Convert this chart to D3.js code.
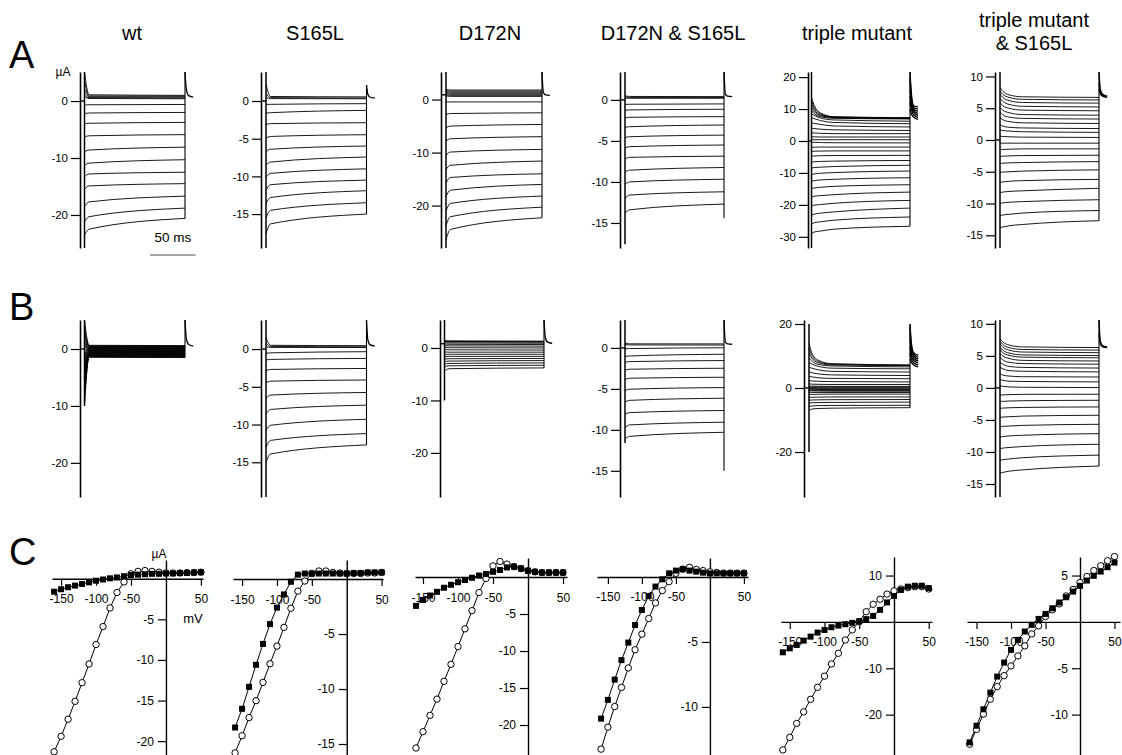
<!DOCTYPE html>
<html><head><meta charset="utf-8">
<script src="https://cdn.jsdelivr.net/npm/d3@7"></script>
<style>
html,body{margin:0;padding:0;background:#fff;}
svg{display:block;}
</style></head><body>
<svg id="chart" width="1122" height="755"></svg>
<script>
// ---------------- DATA ----------------
const titleLines = [["wt"],["S165L"],["D172N"],["D172N & S165L"],["triple mutant"],["triple mutant","& S165L"]];
const rowLetters = ["A","B","C"];
const PULSE_MS = 110;
const stepTimes = [0, 5, 110];
const slowTimes = [0, 3, 10, 25, 110];
const tailTimes = [0, 1.5, 4, 9];
const scaleBarMs = 50;

// Row A
const wtA_ticks = [0,-10,-20];
const wtA_extent = [-25.8, 5.1];
const wtA_traces = [[5.1,1.1,1.0],[3.5,0.9,0.85],[2.0,0.75,0.7],[1.2,0.6,0.55],[0.8,0.45,0.4],
  [-0.7,-0.65,-0.6],[-2.2,-2.1,-2.0],[-4.0,-3.9,-3.75],[-6.3,-6.1,-5.9],[-8.9,-8.6,-8.1],[-11.3,-10.9,-10.3],
  [-13.3,-12.8,-12.5],[-15.5,-14.9,-14.5],[-18.5,-17.7,-16.7],[-21.2,-20.3,-18.8],[-23.5,-22.5,-20.6]];
const wtA_tails = [[5.1,2.0,0.95,0.7]];

const s165A_ticks = [0,-5,-10,-15];
const s165A_extent = [-19.5, 3.85];
const s165A_traces = [[2.2,0.6,0.55],[1.0,0.45,0.4],[0.5,0.32,0.3],
  [-0.45,-0.44,-0.35],[-1.6,-1.55,-1.24],[-3.1,-3.0,-2.88],[-4.9,-4.7,-4.47],[-6.7,-6.4,-5.97],[-8.5,-8.1,-7.43],
  [-10.1,-9.6,-9.0],[-11.8,-11.1,-10.5],[-13.6,-12.8,-11.9],[-15.5,-14.5,-13.5],[-17.6,-16.3,-15.0]];
const s165A_tails = [[2.1,0.9,0.5,0.4]];

const d172A_ticks = [0,-10,-20];
const d172A_extent = [-28, 5.2];
const d172A_traces = [[1.9,1.8,1.8],[1.7,1.6,1.6],[1.5,1.4,1.4],[1.3,1.2,1.2],[1.1,1.0,1.0],[0.9,0.8,0.8],[0.7,0.6,0.6],
  [-0.45,-0.45,-0.44],[-2.8,-2.64,-2.5],[-5.3,-5.0,-4.7],[-7.8,-7.4,-7.0],[-10.5,-9.9,-9.4],[-13.2,-12.4,-11.6],
  [-15.7,-14.7,-14.0],[-18.3,-17.1,-16.0],[-21.0,-19.6,-18.2],[-23.8,-22.1,-20.3],[-26.5,-24.5,-22.3]];
const d172A_tails = [[5.2,1.4,0.9,0.8]];

const dsA_ticks = [0,-5,-10,-15];
const dsA_extent = [-18.05, 3.4];
const dsA_traces = [[0.5,0.42,0.4],[0.35,0.3,0.3],[0.22,0.2,0.2],
  [-0.55,-0.53,-0.49],[-1.25,-1.22,-1.14],[-2.2,-2.12,-2.04],[-3.35,-3.27,-3.06],[-4.6,-4.49,-4.29],[-5.85,-5.7,-5.5],
  [-7.2,-7.0,-6.86],[-8.8,-8.57,-8.24],[-10.3,-10.0,-9.67],[-12.0,-11.6,-11.2],[-13.8,-13.4,-12.7]];
const dsA_tails = [[3.4,0.7,0.45,0.4]];

const triA_ticks = [20,10,0,-10,-20,-30];
const triA_extent = [-33.5, 21.6];
const triA_traces = [[13.5,11.2,8.8,7.6,7.3],[12.5,10.5,8.5,7.5,7.2],[11.5,9.8,8.2,7.4,7.1],[10.5,9.2,7.9,7.3,7.0],
  [9.5,8.6,7.6,7.1,6.9],[8.5,8.0,7.2,6.6,6.2],[7.3,7.0,6.4,5.8,5.4],[5.6,5.5,5.2,4.7,4.4],[4.0,3.9,3.7,3.5,3.3],
  [2.6,2.5,2.4,2.3,2.3],[1.3,1.3,1.25,1.25,1.25],[0.4,0.4,0.4,0.4,0.4],[-0.4,-0.4,-0.5,-0.55,-0.6],
  [-2.0,-1.95,-1.9,-1.9,-1.9],[-3.3,-3.2,-3.15,-3.1,-3.1],[-4.8,-4.7,-4.6,-4.55,-4.5],[-6.6,-6.5,-6.4,-6.3,-6.1],
  [-8.5,-8.3,-8.2,-8.0,-7.6],[-10.5,-10.3,-10.1,-9.9,-9.4],[-12.6,-12.4,-12.2,-12.0,-11.5],[-15.0,-14.7,-14.5,-14.2,-13.7],
  [-17.6,-17.3,-17.1,-16.8,-16.0],[-20.4,-20.1,-19.9,-19.5,-18.6],[-23.2,-22.9,-22.6,-22.2,-21.0],
  [-26.0,-25.6,-25.3,-24.8,-23.8],[-29.0,-28.5,-28.2,-27.6,-26.7]];
const triA_tails = [[21.6,15,11,10.7],[20,14,10.5,10],[18,13,10,9.3],[16,12,9.5,8.6],[14,11,9,8],[12,10,8.2,7.4],[10,8.5,7.5,6.8]];

const tsA_ticks = [10,5,0,-5,-10,-15];
const tsA_extent = [-17, 10.7];
const tsA_traces = [[8.3,7.7,7.1,6.8,6.7],[7.7,7.2,6.7,6.4,6.3],[7.2,6.7,6.2,5.9,5.8],[6.6,6.1,5.6,5.3,5.2],
  [5.9,5.4,5.0,4.7,4.6],[5.1,4.7,4.3,4.0,3.9],[4.4,4.0,3.6,3.4,3.3],[3.5,3.2,2.9,2.7,2.6],[2.4,2.2,2.0,1.9,1.8],
  [1.6,1.5,1.4,1.3,1.2],[0.6,0.55,0.5,0.45,0.4],[-0.5,-0.5,-0.5,-0.5,-0.5],[-1.5,-1.5,-1.45,-1.4,-1.4],
  [-2.6,-2.55,-2.5,-2.45,-2.4],[-3.7,-3.65,-3.6,-3.55,-3.4],[-5.1,-5.05,-5.0,-4.9,-4.7],[-6.7,-6.6,-6.5,-6.4,-6.2],
  [-8.3,-8.2,-8.1,-8.0,-7.6],[-10.0,-9.9,-9.8,-9.7,-9.4],[-11.9,-11.8,-11.7,-11.5,-11.1],[-13.8,-13.7,-13.5,-13.3,-12.7]];
const tsA_tails = [[10.7,8.0,7.2,6.9],[9.0,7.5,7.0,6.8],[8.0,7.2,6.9,6.7]];

// Row B
const wtB_ticks = [0,-10,-20];
const wtB_extent = [-26, 5.1];
const wtB_traces = [[5.1,0.65,0.6],[4.0,0.57,0.52],[3.0,0.5,0.45],[2.2,0.42,0.38],[1.5,0.35,0.3],[1.1,0.27,0.22],
  [0.8,0.2,0.15],[0.5,0.12,0.08],[0.3,0.05,0],[-0.1,-0.02,-0.07],[-0.5,-0.1,-0.15],[-0.75,-0.17,-0.22],
  [-1.0,-0.25,-0.3],[-1.25,-0.32,-0.37],[-1.5,-0.4,-0.45],[-2.0,-0.47,-0.52],[-2.5,-0.55,-0.6],[-3.0,-0.62,-0.67],
  [-3.5,-0.7,-0.75],[-4.0,-0.77,-0.82],[-4.5,-0.85,-0.9],[-5.0,-0.92,-0.97],[-5.5,-1.0,-1.05],[-6.0,-1.07,-1.12],
  [-6.5,-1.15,-1.2],[-7.2,-1.22,-1.27],[-8.0,-1.3,-1.35],[-9.0,-1.37,-1.42],[-10.0,-1.45,-1.5]];
const wtB_tails = [[5.1,1.8,0.8,0.5]];

const s165B_ticks = [0,-5,-10,-15];
const s165B_extent = [-19.6, 3.85];
const s165B_traces = [[1.5,0.5,0.45],[0.8,0.35,0.3],[0.3,0.22,0.2],
  [-0.55,-0.5,-0.35],[-1.45,-1.37,-1.24],[-2.85,-2.7,-2.57],[-4.45,-4.25,-4.1],[-6.5,-6.1,-5.75],[-8.6,-8.0,-7.43],
  [-10.8,-10.1,-9.3],[-13.0,-12.1,-11.2],[-15.0,-13.9,-12.7]];
const s165B_tails = [[3.85,1.2,0.55,0.4]];

const d172B_ticks = [0,-10,-20];
const d172B_extent = [-28.4, 5.33];
const d172B_traces = [[1.4,1.35,1.3],[1.3,1.25,1.2],[1.2,1.15,1.1],[1.0,0.95,0.9],[0.75,0.7,0.65],[0.45,0.4,0.35],[0.1,0.05,0],
  [-0.3,-0.35,-0.4],[-0.75,-0.8,-0.8],[-1.2,-1.2,-1.2],[-1.65,-1.6,-1.6],[-2.1,-2.05,-2.0],[-2.6,-2.5,-2.4],
  [-3.1,-2.95,-2.85],[-3.6,-3.4,-3.3],[-4.4,-3.95,-3.8]];
const d172B_tails = [[5.33,2.0,1.1,0.9]];

const dsB_ticks = [0,-5,-10,-15];
const dsB_extent = [-18.2, 3.41];
const dsB_traces = [[0.6,0.5,0.49],[0.42,0.37,0.35],[-0.1,-0.08,0.02],[-1.05,-0.98,-0.77],[-1.75,-1.67,-1.54],
  [-2.7,-2.6,-2.48],[-3.85,-3.7,-3.58],[-5.2,-5.04,-4.84],[-6.6,-6.4,-6.14],[-8.1,-7.9,-7.64],[-9.7,-9.4,-9.07],
  [-11.1,-10.8,-10.3]];
const dsB_tails = [[3.41,0.7,0.5,0.45]];

const triB_ticks = [20,0,-20];
const triB_extent = [-34.06, 21.25];
const triB_traces = [[14,11,8.7,7.6,7.2],[12.5,10.2,8.3,7.4,7.1],[11,9.4,7.9,7.2,7.0],[9.5,8.5,7.4,6.9,6.6],
  [8,7.5,6.8,6.2,6.0],[6.5,6.2,5.7,5.2,5.0],[5.0,4.8,4.4,4.1,3.9],[3.6,3.5,3.2,3.0,2.9],[2.3,2.2,2.1,2.0,1.9],
  [1.3,1.2,1.15,1.1,1.1],[0.6,0.6,0.55,0.5,0.5],[0.3,0.3,0.28,0.25,0.25],[0.1,0.1,0.05,0,0],[-0.2,-0.2,-0.22,-0.25,-0.25],
  [-0.4,-0.4,-0.45,-0.5,-0.5],[-0.7,-0.7,-0.72,-0.75,-0.75],[-0.9,-0.9,-0.95,-1.0,-1.0],[-1.4,-1.4,-1.4,-1.4,-1.4],
  [-2.0,-2.0,-1.95,-1.9,-1.9],[-2.9,-2.9,-2.85,-2.8,-2.8],[-3.8,-3.75,-3.7,-3.65,-3.6],[-4.7,-4.6,-4.55,-4.5,-4.4],
  [-5.8,-5.6,-5.5,-5.45,-5.4],[-7.0,-6.6,-6.4,-6.3,-6.15]];
const triB_tails = [[20,14,11,10.2],[19,13,10.5,9.6],[17,12,10,9],[15,11,9.3,8.4],[13,10,8.6,7.8],[11,9,7.9,7.2],[9,8,7.2,6.6]];

const tsB_ticks = [10,5,0,-5,-10,-15];
const tsB_extent = [-17.03, 10.6];
const tsB_traces = [[7.7,7.2,6.7,6.4,6.3],[7.3,6.8,6.3,6.0,5.9],[6.9,6.4,5.9,5.6,5.5],[6.4,5.9,5.45,5.15,5.05],
  [6.0,5.5,5.1,4.8,4.7],[5.4,5.0,4.6,4.3,4.2],[4.8,4.4,4.0,3.8,3.7],[4.0,3.7,3.35,3.2,3.1],[3.2,3.0,2.7,2.6,2.5],
  [2.2,2.0,1.85,1.75,1.7],[1.3,1.2,1.05,1.0,0.94],[0.3,0.25,0.15,0.1,0.05],[-1.1,-1.1,-1.05,-1.0,-0.99],
  [-2.1,-2.1,-2.05,-2.0,-1.93],[-3.2,-3.15,-3.1,-3.05,-2.97],[-4.6,-4.55,-4.5,-4.4,-4.27],[-6.1,-6.0,-5.95,-5.85,-5.68],
  [-7.7,-7.6,-7.5,-7.4,-7.14],[-9.5,-9.4,-9.3,-9.15,-8.8],[-11.3,-11.2,-11.1,-10.9,-10.5],[-13.3,-13.2,-13.0,-12.8,-12.2]];
const tsB_tails = [[10.6,7.3,6.6,6.4],[8.5,6.9,6.4,6.3]];

// Row C: current-voltage relations
const voltages = [-160,-150,-140,-130,-120,-110,-100,-90,-80,-70,-60,-50,-40,-30,-20,-10,0,10,20,30,40,50];
const ivXTicks = [-150,-100,-50,50];

const wtC_sq = [-1.6,-1.3,-1.05,-0.85,-0.65,-0.45,-0.25,-0.1,0.05,0.15,0.3,0.45,0.5,0.55,0.6,0.6,0.65,0.65,0.7,0.7,0.75,0.8];
const wtC_ci = [-21.3,-19.4,-17.3,-15.1,-12.8,-10.5,-8.1,-5.9,-3.6,-1.7,-0.4,0.6,0.9,1.0,0.9,0.8,0.7,0.7,0.7,0.75,0.75,0.8];
const wtC_yTicks = [-5,-10,-15,-20];

const s165C_sq = [-13.5,-11.8,-9.8,-7.8,-5.9,-4.1,-2.6,-1.4,-0.25,0.4,0.5,0.5,0.5,0.5,0.5,0.5,0.5,0.55,0.55,0.6,0.6,0.6];
const s165C_ci = [-15.8,-14.25,-12.6,-11.06,-9.4,-7.7,-6.1,-4.4,-2.66,-1.1,-0.18,0.5,0.73,0.73,0.6,0.55,0.5,0.5,0.5,0.55,0.55,0.6];
const s165C_yTicks = [-5,-10,-15];

const d172C_sq = [-3.9,-3.1,-2.5,-2.0,-1.45,-1.05,-0.7,-0.4,-0.1,0.2,0.4,0.7,0.95,1.3,1.4,1.15,0.85,0.7,0.6,0.6,0.6,0.6];
const d172C_ci = [-23.1,-20.9,-18.7,-16.5,-14.1,-11.8,-9.4,-7.0,-4.55,-2.1,-0.2,1.5,2.1,1.75,1.4,1.15,0.85,0.7,0.6,0.6,0.6,0.6];
const d172C_yTicks = [-5,-10,-15,-20];

const dsC_sq = [-10.9,-9.46,-7.9,-6.4,-5.05,-3.7,-2.54,-1.46,-0.74,-0.18,0.28,0.49,0.6,0.49,0.41,0.33,0.28,0.28,0.28,0.28,0.28,0.28];
const dsC_ci = [-13.25,-11.56,-9.97,-8.5,-7.0,-5.6,-4.4,-3.2,-2.0,-1.05,-0.36,0.28,0.6,0.74,0.58,0.49,0.4,0.35,0.3,0.3,0.3,0.3];
const dsC_yTicks = [-5,-10];

const triC_sq = [-6.55,-5.7,-4.97,-4.03,-3.17,-2.3,-1.73,-1.15,-0.79,-0.5,-0.2,0.14,0.6,1.3,2.6,4.2,5.6,6.9,7.6,7.8,7.8,7.3];
const triC_ci = [-27.6,-24.9,-21.9,-19.4,-16.7,-14.1,-11.7,-9.07,-6.77,-3.9,-1.73,0.07,2.2,3.8,4.9,6.0,6.7,7.1,7.4,7.6,7.6,7.1];
const triC_yTicks = [10,-10,-20];

const tsC_sq = [-13.0,-11.2,-9.43,-7.63,-5.9,-4.39,-3.02,-1.94,-1.04,-0.32,0.32,0.86,1.47,2.09,2.66,3.27,3.89,4.46,4.97,5.43,5.9,6.4];
const tsC_ci = [-13.2,-11.6,-9.94,-8.35,-6.98,-5.8,-4.75,-3.67,-2.59,-1.3,-0.43,0.58,1.3,1.94,2.8,3.5,4.24,4.9,5.54,6.05,6.6,7.05];
const tsC_yTicks = [5,-5,-10];

// ---------------- LAYOUT ----------------
const FONT = '"Liberation Sans", Arial, Helvetica, sans-serif';
const svg = d3.select('#chart');
const titleX = [132, 315, 490, 673, 857, 1034];
const rowAFrame = {top: 72, bottom: 248};
const rowBFrame = {top: 320, bottom: 497};
const colA = [
  {axisX:80, innerX:84.5, endX:185},
  {axisX:261, innerX:266, endX:366.5},
  {axisX:441, innerX:446, endX:542},
  {axisX:620, innerX:625, endX:724},
  {axisX:808, innerX:811.5, endX:910},
  {axisX:995, innerX:1000, endX:1099}];
const colB = [
  {axisX:80, innerX:84.5, endX:185},
  {axisX:261, innerX:266, endX:366.5},
  {axisX:440, innerX:444.5, endX:544},
  {axisX:620, innerX:625, endX:724},
  {axisX:804, innerX:809, endX:910},
  {axisX:995, innerX:1000, endX:1099}];
const ivFrames = [
  {left:52, right:203, top:560, bottom:755},
  {left:233, right:383, top:560, bottom:755},
  {left:415, right:567, top:558, bottom:755},
  {left:597, right:748, top:558, bottom:755},
  {left:781, right:932, top:557, bottom:755},
  {left:967, right:1120, top:557, bottom:755}];

const rowA = [
  {ticks:wtA_ticks, extent:wtA_extent, traces:wtA_traces, times:stepTimes, tails:wtA_tails, hold:0, onset:wtA_extent},
  {ticks:s165A_ticks, extent:s165A_extent, traces:s165A_traces, times:stepTimes, tails:s165A_tails, hold:0, onset:s165A_extent},
  {ticks:d172A_ticks, extent:d172A_extent, traces:d172A_traces, times:stepTimes, tails:d172A_tails, hold:0.9, onset:d172A_extent},
  {ticks:dsA_ticks, extent:dsA_extent, traces:dsA_traces, times:stepTimes, tails:dsA_tails, hold:0, onset:[-17.6, 3.4], endLo:-14.4},
  {ticks:triA_ticks, extent:triA_extent, traces:triA_traces, times:slowTimes, tails:triA_tails, hold:0, onset:triA_extent},
  {ticks:tsA_ticks, extent:tsA_extent, traces:tsA_traces, times:slowTimes, tails:tsA_tails, hold:0, onset:tsA_extent}];
const rowB = [
  {ticks:wtB_ticks, extent:wtB_extent, traces:wtB_traces, times:stepTimes, tails:wtB_tails, hold:0, onset:[-10, 5.1]},
  {ticks:s165B_ticks, extent:s165B_extent, traces:s165B_traces, times:stepTimes, tails:s165B_tails, hold:0, onset:s165B_extent},
  {ticks:d172B_ticks, extent:d172B_extent, traces:d172B_traces, times:stepTimes, tails:d172B_tails, hold:0.8, onset:[-10, 5.33]},
  {ticks:dsB_ticks, extent:dsB_extent, traces:dsB_traces, times:stepTimes, tails:dsB_tails, hold:0, onset:[-11.6, 3.41], endLo:-15},
  {ticks:triB_ticks, extent:triB_extent, traces:triB_traces, times:slowTimes, tails:triB_tails, hold:0, onset:[-20, 20]},
  {ticks:tsB_ticks, extent:tsB_extent, traces:tsB_traces, times:slowTimes, tails:tsB_tails, hold:0, onset:tsB_extent}];
const rowC = [
  {xDom:[-163,53], yDom:[-21.7,2.3], sq:wtC_sq, ci:wtC_ci, yTicks:wtC_yTicks},
  {xDom:[-163,52], yDom:[-16,1.73], sq:s165C_sq, ci:s165C_ci, yTicks:s165C_yTicks},
  {xDom:[-161.4,55.7], yDom:[-24.05,2.57], sq:d172C_sq, ci:d172C_ci, yTicks:d172C_yTicks},
  {xDom:[-166,56], yDom:[-13.7,1.46], sq:dsC_sq, ci:dsC_ci, yTicks:dsC_yTicks},
  {xDom:[-162.6,54.7], yDom:[-28.7,14.0], sq:triC_sq, ci:triC_ci, yTicks:triC_yTicks},
  {xDom:[-163.8,58], yDom:[-14.36,7.0], sq:tsC_sq, ci:tsC_ci, yTicks:tsC_yTicks}];

// ---------------- DRAW ----------------
function styleAxis(axG, fontSize, domainWidth) {
  axG.select('.domain').attr('stroke', '#000').attr('stroke-width', domainWidth);
  axG.selectAll('.tick line').attr('stroke', '#000').attr('stroke-width', 1.2);
  axG.selectAll('.tick text').attr('font-size', fontSize).attr('font-family', FONT).attr('fill', '#000');
  axG.attr('font-family', FONT);
}

function tracePanel(frame, col, d) {
  const g = svg.append('g');
  const y = d3.scaleLinear().domain(d.extent).range([frame.bottom, frame.top]);
  const t = d3.scaleLinear().domain([0, PULSE_MS]).range([col.innerX, col.endX]);
  const ax = d3.axisLeft(y).tickValues(d.ticks).tickSize(9).tickSizeOuter(0).tickPadding(3).tickFormat(v => String(v));
  const axG = g.append('g').attr('transform', `translate(${col.axisX},0)`).call(ax);
  styleAxis(axG, 11.5, 1.6);
  g.append('line').attr('x1', col.axisX).attr('x2', col.innerX)
    .attr('y1', y(d.hold)).attr('y2', y(d.hold)).attr('stroke', '#000').attr('stroke-width', 1.4);
  g.append('line').attr('x1', col.innerX).attr('x2', col.innerX)
    .attr('y1', y(d.onset[0])).attr('y2', y(d.onset[1])).attr('stroke', '#000').attr('stroke-width', 1.5);
  const line = d3.line().x((v, i) => t(d.times[i])).y(v => y(v)).curve(d3.curveMonotoneX);
  g.selectAll('path.trace').data(d.traces).join('path').attr('class', 'trace')
    .attr('d', line).attr('fill', 'none').attr('stroke', '#000').attr('stroke-width', 0.9);
  const ends = d.traces.map(tr => tr[tr.length - 1]);
  const lo = d.endLo !== undefined ? d.endLo : d3.min(ends);
  const hi = d3.max(d.tails, tl => tl[0]);
  g.append('line').attr('x1', t(PULSE_MS)).attr('x2', t(PULSE_MS))
    .attr('y1', y(lo)).attr('y2', y(hi)).attr('stroke', '#000').attr('stroke-width', 1.1);
  const tail = d3.line().x((v, i) => t(PULSE_MS + tailTimes[i])).y(v => y(v)).curve(d3.curveMonotoneX);
  g.selectAll('path.tail').data(d.tails).join('path').attr('class', 'tail')
    .attr('d', tail).attr('fill', 'none').attr('stroke', '#000').attr('stroke-width', 1.3);
  return {y, t};
}

function ivPanel(frame, d) {
  const g = svg.append('g');
  const x = d3.scaleLinear().domain(d.xDom).range([frame.left, frame.right]);
  const y = d3.scaleLinear().domain(d.yDom).range([frame.bottom, frame.top]);
  const xa = d3.axisBottom(x).tickValues(ivXTicks).tickSize(7).tickSizeOuter(0).tickPadding(9).tickFormat(v => String(v));
  const xaG = g.append('g').attr('transform', `translate(0,${y(0)})`).call(xa);
  styleAxis(xaG, 12, 1.4);
  const ya = d3.axisLeft(y).tickValues(d.yTicks).tickSize(8).tickSizeOuter(0).tickPadding(4).tickFormat(v => String(v));
  const yaG = g.append('g').attr('transform', `translate(${x(0)},0)`).call(ya);
  styleAxis(yaG, 12, 1.4);
  const pts = arr => arr.map((v, i) => [voltages[i], v]);
  const ln = d3.line().x(p => x(p[0])).y(p => y(p[1]));
  g.append('path').attr('d', ln(pts(d.ci))).attr('fill', 'none').attr('stroke', '#000').attr('stroke-width', 1);
  g.append('path').attr('d', ln(pts(d.sq))).attr('fill', 'none').attr('stroke', '#000').attr('stroke-width', 1);
  g.selectAll('circle').data(pts(d.ci)).join('circle')
    .attr('cx', p => x(p[0])).attr('cy', p => y(p[1])).attr('r', 3.2)
    .attr('fill', '#fff').attr('stroke', '#000').attr('stroke-width', 1);
  g.selectAll('rect').data(pts(d.sq)).join('rect')
    .attr('x', p => x(p[0]) - 3).attr('y', p => y(p[1]) - 3).attr('width', 6).attr('height', 6).attr('fill', '#000');
  return {x, y};
}

titleLines.forEach((lines, i) => {
  const tx = svg.append('text').attr('x', titleX[i]).attr('text-anchor', 'middle')
    .attr('font-family', FONT).attr('font-size', 20).attr('fill', '#000');
  const base = lines.length === 1 ? 40 : 27;
  lines.forEach((s, k) => tx.append('tspan').attr('x', titleX[i]).attr('y', base + k * 23).text(s));
});

const letterY = [68, 320, 565];
rowLetters.forEach((s, i) => {
  svg.append('text').attr('x', 9).attr('y', letterY[i]).attr('font-family', FONT)
    .attr('font-size', 38).attr('fill', '#000').text(s);
});

const scalesA = rowA.map((d, i) => tracePanel(rowAFrame, colA[i], d));
rowB.forEach((d, i) => tracePanel(rowBFrame, colB[i], d));
rowC.forEach((d, i) => ivPanel(ivFrames[i], d));

svg.append('text').attr('x', 63).attr('y', 76).attr('text-anchor', 'middle').attr('font-family', FONT)
  .attr('font-size', 12).text('µA');
svg.append('text').attr('x', 159).attr('y', 558).attr('text-anchor', 'middle').attr('font-family', FONT)
  .attr('font-size', 12).text('µA');
svg.append('text').attr('x', 193).attr('y', 623).attr('text-anchor', 'middle').attr('font-family', FONT)
  .attr('font-size', 13).text('mV');

const tA = scalesA[0].t;
const barX0 = 150, barY = 255;
svg.append('line').attr('x1', barX0).attr('x2', barX0 + tA(scaleBarMs) - tA(0))
  .attr('y1', barY).attr('y2', barY).attr('stroke', '#8a8a8a').attr('stroke-width', 1.5);
svg.append('text').attr('x', barX0 + (tA(scaleBarMs) - tA(0)) / 2).attr('y', 242).attr('text-anchor', 'middle')
  .attr('font-family', FONT).attr('font-size', 13.5).text(scaleBarMs + ' ms');
</script>
</body></html>
